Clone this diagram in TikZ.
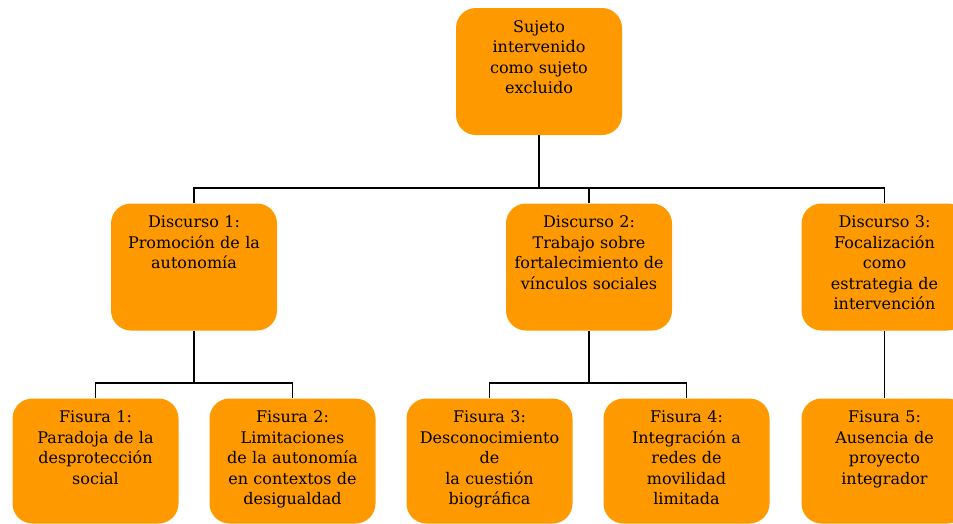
\documentclass[tikz,border=0pt]{standalone}
\usepackage{fontspec}
\setmainfont{DejaVu Serif}
\definecolor{boxorange}{RGB}{255,153,0}
\begin{document}
\begin{tikzpicture}[x=1pt,y=-1pt,
  orbox/.style={fill=boxorange, draw=none, rounded corners=20pt, inner sep=0pt,
    text width=166pt, align=center, text height=24pt, text depth=103pt,
    font=\fontsize{16}{20.5}\selectfont},
  fisbox/.style={orbox, text depth=101pt},
  link/.style={draw=black, line width=1.9pt}]
\useasboundingbox (0,0) rectangle (953,523);
\clip (0,0) rectangle (953,523);
\node[orbox] (root) at (539,71.5) {Sujeto\\intervenido\\como sujeto\\excluido};
\node[orbox] (d1) at (194,267) {Discurso 1:\\Promoción de la\\autonomía};
\node[orbox] (d2) at (589,267) {Discurso 2:\\Trabajo sobre\\fortalecimiento de\\vínculos sociales};
\node[orbox] (d3) at (884.5,267) {Discurso 3:\\Focalización\\como\\estrategia de\\intervención};
\node[fisbox] (f1) at (95.5,461) {Fisura 1:\\Paradoja de la\\desprotección\\social};
\node[fisbox] (f2) at (292.5,461) {Fisura 2:\\Limitaciones\\de la autonomía\\en contextos de\\desigualdad};
\node[fisbox] (f3) at (489.5,461) {Fisura 3:\\Desconocimiento\\de\\la cuestión\\biográfica};
\node[fisbox] (f4) at (686.5,461) {Fisura 4:\\Integración a\\redes de\\movilidad\\limitada};
\node[fisbox] (f5) at (884.5,461) {Fisura 5:\\Ausencia de\\proyecto\\integrador};
\coordinate (b0) at (539,188);
\coordinate (b1) at (194,383);
\coordinate (b2) at (589,383);
\draw[link] (root.south) -- (b0);
\draw[link] (d1.north) -- (d1.north |- b0) -- (d3.north |- b0) -- (d3.north);
\draw[link] (d2.north) -- (d2.north |- b0);
\draw[link] (d1.south) -- (b1);
\draw[link] (f1.north) -- (f1.north |- b1) -- (f2.north |- b1) -- (f2.north);
\draw[link] (d2.south) -- (b2);
\draw[link] (f3.north) -- (f3.north |- b2) -- (f4.north |- b2) -- (f4.north);
\draw[link] (d3.south) -- (f5.north);
\end{tikzpicture}
\end{document}
